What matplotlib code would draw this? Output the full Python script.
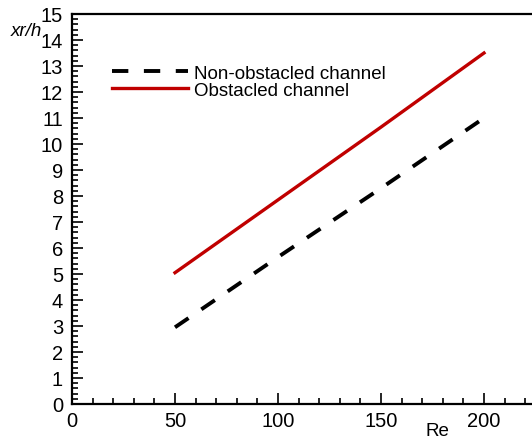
import matplotlib
matplotlib.use("Agg")
import matplotlib.pyplot as plt
from matplotlib.ticker import MultipleLocator

plt.rcParams['font.family'] = ['Liberation Sans', 'DejaVu Sans']

re_vals = [50, 100, 150, 200]
non_obstacled = [2.95, 5.65, 8.3, 11.0]
obstacled = [5.05, 7.85, 10.65, 13.5]

W, H = 532, 439
fig = plt.figure(figsize=(W/100, H/100), dpi=100)
ax = fig.add_axes([72/W, 1-405/H, 460/W, 390/H])

ax.plot(re_vals, non_obstacled, color='black', lw=2.8, dashes=(4.2, 4.0),
        label='Non-obstacled channel')
ax.plot(re_vals, obstacled, color='#c00000', lw=2.4, label='Obstacled channel')

ax.set_xlim(0, 460/2.06)
ax.set_ylim(0, 15)
ax.xaxis.set_major_locator(MultipleLocator(50))
ax.xaxis.set_minor_locator(MultipleLocator(10))
ax.yaxis.set_major_locator(MultipleLocator(1))
ax.yaxis.set_minor_locator(MultipleLocator(0.2))
ax.tick_params(which='both', direction='in', top=False, right=False, labelsize=14.5, width=1.2)
ax.tick_params(which='major', length=8)
ax.tick_params(which='minor', length=4)
ax.tick_params(axis='x', pad=5)
ax.tick_params(axis='y', pad=6.5)
for s in ['left', 'bottom', 'top']:
    ax.spines[s].set_linewidth(1.6)
ax.spines['right'].set_visible(False)

fig.text(26/W, 1-32/H, 'xr/h', fontsize=13.5, style='italic', ha='center', va='center')
fig.text(437/W, 1-432/H, 'Re', fontsize=13.5, ha='center', va='center')

leg = ax.legend(loc='upper left', bbox_to_anchor=(32/460, 1-43/390), frameon=False,
                fontsize=13.5, handlelength=4.1, handletextpad=0.3, labelspacing=0.0,
                borderaxespad=0)

fig.savefig('out.png', dpi=100)
